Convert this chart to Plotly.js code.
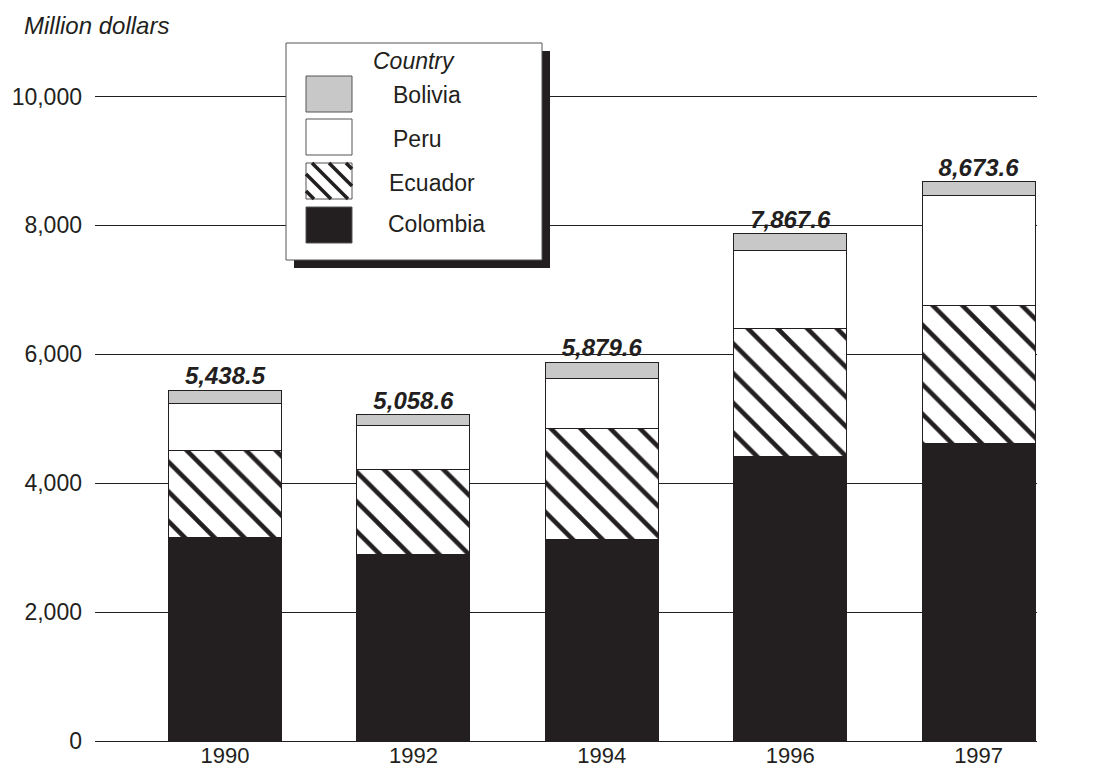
<!DOCTYPE html>
<html>
<head>
<meta charset="utf-8">
<script src="https://cdn.plot.ly/plotly-3.0.1.min.js"></script>
<style>html,body{margin:0;padding:0;background:#fff;}#chart{width:1102px;height:769px;}</style>
</head>
<body>
<div id="chart"></div>
<script>
// ---- data (million dollars) ----
var years    = ['1990', '1992', '1994', '1996', '1997'];
var colombia = [3163, 2899, 3127, 4419, 4615];
var ecuador  = [1337, 1313, 1721, 1979, 2140];
var peru     = [736, 687, 775, 1214, 1710];
var bolivia  = [202.5, 159.6, 256.6, 255.6, 208.6];
var totals   = [5438.5, 5058.6, 5879.6, 7867.6, 8673.6];
var totalLabels = ['5,438.5', '5,058.6', '5,879.6', '7,867.6', '8,673.6'];
var legendNames = ['Bolivia', 'Peru', 'Ecuador', 'Colombia'];

var INK = '#231f20';
var FONT = '"Liberation Sans", Arial, sans-serif';

var W = 1102, H = 769;
var M = {l: 95, r: 65, t: 32, b: 28};
var PW = W - M.l - M.r, PH = H - M.t - M.b;
function px(x) { return (x - M.l) / PW; }
function py(y) { return (H - M.b - y) / PH; }

var lineStyle = {color: INK, width: 1};
var traces = [
  {type: 'bar', name: 'Colombia', x: years, y: colombia, cliponaxis: false,
   marker: {color: INK, line: lineStyle}},
  {type: 'bar', name: 'Ecuador', x: years, y: ecuador, cliponaxis: false,
   marker: {color: '#ffffff', line: lineStyle,
            pattern: {shape: '\\', fgcolor: INK, bgcolor: '#ffffff', size: 21, solidity: 0.22}}},
  {type: 'bar', name: 'Peru', x: years, y: peru, cliponaxis: false,
   marker: {color: '#ffffff', line: lineStyle}},
  {type: 'bar', name: 'Bolivia', x: years, y: bolivia, cliponaxis: false,
   marker: {color: '#c8c8c8', line: lineStyle}},
  // total labels above each stack
  {type: 'scatter', mode: 'text', x: years, y: totals, text: totalLabels, cliponaxis: false,
   textposition: 'top center', hoverinfo: 'skip', showlegend: false,
   textfont: {family: FONT, size: 24, color: INK, weight: 'bold', style: 'italic'}}
];

var annotations = [];
annotations.push({xref: 'paper', yref: 'paper', x: px(22), y: py(25), xanchor: 'left', yanchor: 'middle',
  text: '<i>Million dollars</i>', showarrow: false,
  font: {family: FONT, size: 24, color: INK}});

// ---- legend drawn as shapes ----
var shapes = [];
var box = {x0: 286, y0: 43, x1: 542, y1: 260};
shapes.push({type: 'rect', xref: 'paper', yref: 'paper', layer: 'above',
  x0: px(box.x0 + 8), x1: px(box.x1 + 8), y0: py(box.y0 + 8), y1: py(box.y1 + 8),
  fillcolor: INK, line: {width: 0}});
shapes.push({type: 'rect', xref: 'paper', yref: 'paper', layer: 'above',
  x0: px(box.x0), x1: px(box.x1), y0: py(box.y0), y1: py(box.y1),
  fillcolor: '#ffffff', line: {color: '#555555', width: 1}});
annotations.push({xref: 'paper', yref: 'paper', x: px(414), y: py(61), xanchor: 'center', yanchor: 'middle',
  text: '<i>Country</i>', showarrow: false, font: {family: FONT, size: 23, color: INK}});

var sw = [
  {y0: 76, fill: '#c8c8c8', tx: 391, ty: 95},
  {y0: 119, fill: '#ffffff', tx: 391, ty: 139},
  {y0: 163, fill: '#ffffff', tx: 387, ty: 183, hatch: true},
  {y0: 207, fill: INK, tx: 386, ty: 224}
];
var sx0 = 306, sx1 = 352, sh = 36;
sw.forEach(function (s, i) {
  var y0 = s.y0, y1 = s.y0 + sh;
  shapes.push({type: 'rect', xref: 'paper', yref: 'paper', layer: 'above',
    x0: px(sx0), x1: px(sx1), y0: py(y0), y1: py(y1),
    fillcolor: s.fill, line: {color: '#555555', width: 1}});
  if (s.hatch) {
    // diagonal "\" stripes clipped to swatch: screen y - x = c
    var step = 17;
    for (var c = (y0 - sx1) + 6; c < (y1 - sx0); c += step) {
      var xa = Math.max(sx0, y0 - c), xb = Math.min(sx1, y1 - c);
      if (xb - xa < 2) continue;
      shapes.push({type: 'line', xref: 'paper', yref: 'paper', layer: 'above',
        x0: px(xa), y0: py(xa + c), x1: px(xb), y1: py(xb + c),
        line: {color: INK, width: 3.5}});
    }
  }
  annotations.push({xref: 'paper', yref: 'paper', x: px(s.tx), y: py(s.ty), xanchor: 'left', yanchor: 'middle',
    text: legendNames[i], showarrow: false, font: {family: FONT, size: 23, color: INK}});
});

var layout = {
  width: W, height: H,
  margin: M,
  paper_bgcolor: '#ffffff', plot_bgcolor: '#ffffff',
  barmode: 'stack', bargap: 0.4,
  showlegend: false,
  font: {family: FONT, size: 23, color: INK},
  xaxis: {type: 'category', range: [-0.69, 4.31], showline: true, linecolor: INK, linewidth: 1,
          ticks: '', showgrid: false, zeroline: false, tickfont: {family: FONT, size: 22, color: INK},
          ticklabelstandoff: -5},
  yaxis: {range: [0, 11000], dtick: 2000, tickformat: ',d', showgrid: true, gridcolor: INK, gridwidth: 1,
          zeroline: false, showline: false, ticks: '', ticklabelstandoff: 12,
          tickfont: {family: FONT, size: 23, color: INK}},
  annotations: annotations,
  shapes: shapes
};

Plotly.newPlot('chart', traces, layout, {displayModeBar: false, staticPlot: true});
</script>
</body>
</html>
